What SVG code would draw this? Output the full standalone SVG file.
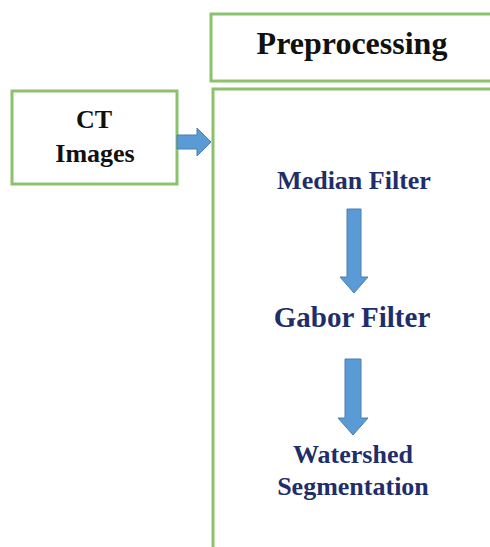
<svg xmlns="http://www.w3.org/2000/svg" width="490" height="547" viewBox="0 0 490 547">
<style>
.box{fill:#fff;stroke:#8DC26C;stroke-width:3}
.arr{fill:#5B9BD5;stroke:#4A7EB0;stroke-width:1}
.t{font-family:"Liberation Serif","Times New Roman",serif;font-weight:bold;text-anchor:middle}
.k{fill:#111}
.n{fill:#1F2E6A}
</style>
<rect width="490" height="547" fill="#fff"/>
<g id="ct-images">
<rect class="box" x="12" y="91" width="165" height="93"/>
<text class="t k" x="94" y="128" font-size="26">CT</text>
<text class="t k" x="95" y="162" font-size="26">Images</text>
</g>
<g id="preprocessing-title">
<rect class="box" x="211" y="14" width="300" height="67"/>
<text class="t k" x="352" y="54" font-size="32">Preprocessing</text>
</g>
<g id="preprocessing-body">
<rect class="box" x="213" y="89" width="300" height="500"/>
</g>
<g id="median-filter">
<text class="t n" x="354" y="189" font-size="26">Median Filter</text>
</g>
<g id="gabor-filter">
<text class="t n" x="352" y="327" font-size="29">Gabor Filter</text>
</g>
<g id="watershed">
<text class="t n" x="353" y="463" font-size="26">Watershed</text>
<text class="t n" x="353" y="495" font-size="26">Segmentation</text>
</g>
<g id="connectors">
<path class="arr" d="M177,135 H197 V128 L211,142 L197,156 V149 H177 Z"/>
<path class="arr" d="M347,209 H361 V277 H368 L354,293 L340,277 H347 Z"/>
<path class="arr" d="M345,359 H361 V418 H368 L353,435 L338,418 H345 Z"/>
</g>
</svg>
